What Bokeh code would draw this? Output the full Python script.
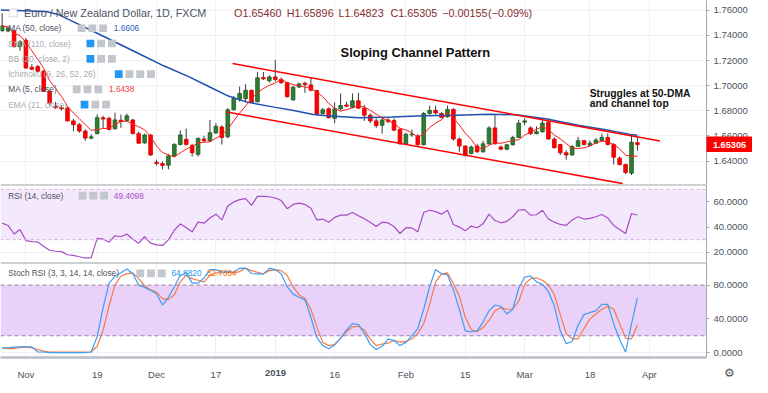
import pandas as pd
from bokeh.plotting import figure
from bokeh.layouts import column
from bokeh.models import (ColumnDataSource, Range1d, FixedTicker, Label,
                          BoxAnnotation, Span, NumeralTickFormatter)
from bokeh.embed import file_html
from bokeh.resources import INLINE
from bokeh.core.properties import value

# ---------------- data (EUR/NZD daily, bar index 0 = 1 Nov 2018) ----------------
bar_index = list(range(-4, 104))

open_ = [1.74374, 1.74349, 1.74374, 1.73106, 1.73613, 1.71457, 1.71533, 1.71152, 1.69554, 1.68362,
         1.68260, 1.68210, 1.67195, 1.66891, 1.66383, 1.65825, 1.66180, 1.67449, 1.67398, 1.66561,
         1.67246, 1.67220, 1.67271, 1.66180, 1.65445, 1.66079, 1.63897, 1.63796, 1.63669, 1.64404,
         1.65318, 1.65724, 1.65242, 1.64531, 1.65749, 1.65622, 1.66231, 1.66713, 1.65926, 1.68083,
         1.68920, 1.68971, 1.69630, 1.68717, 1.70645, 1.70391, 1.70696, 1.70493, 1.70239, 1.68869,
         1.69884, 1.70188, 1.70061, 1.69605, 1.67778, 1.68159, 1.67398, 1.68159, 1.68463, 1.68286,
         1.68793, 1.68210, 1.67652, 1.67195, 1.66840, 1.67271, 1.67220, 1.66510, 1.65368, 1.66079,
         1.66003, 1.65292, 1.67778, 1.68032, 1.67778, 1.67525, 1.68108, 1.65749, 1.65191, 1.64607,
         1.65191, 1.64734, 1.65368, 1.66637, 1.65115, 1.64937, 1.65292, 1.65876, 1.67093, 1.66637,
         1.66180, 1.66332, 1.67093, 1.65749, 1.65318, 1.64658, 1.64481, 1.65166, 1.65622, 1.65242,
         1.65419, 1.65622, 1.65876, 1.65318, 1.64227, 1.63720, 1.63035, 1.65460]
high = [1.75769, 1.74704, 1.74450, 1.73613, 1.73791, 1.71710, 1.71634, 1.71254, 1.69630, 1.68717,
        1.68413, 1.68286, 1.67347, 1.67017, 1.66510, 1.66129, 1.67702, 1.67601, 1.67525, 1.67855,
        1.67702, 1.67778, 1.67347, 1.66332, 1.66180, 1.66129, 1.64100, 1.63973, 1.64557, 1.65419,
        1.66434, 1.66586, 1.65368, 1.65876, 1.66003, 1.67271, 1.67017, 1.66840, 1.68210, 1.69174,
        1.69935, 1.70112, 1.69681, 1.71076, 1.71076, 1.70823, 1.72040, 1.70645, 1.70315, 1.69985,
        1.70239, 1.70315, 1.70620, 1.69681, 1.68210, 1.68260, 1.68666, 1.69377, 1.68717, 1.69377,
        1.69427, 1.68463, 1.67778, 1.67398, 1.67525, 1.67449, 1.67398, 1.66637, 1.66256, 1.66510,
        1.66129, 1.67905, 1.68413, 1.68413, 1.67905, 1.68413, 1.68210, 1.65876, 1.65242, 1.65242,
        1.65368, 1.65622, 1.66764, 1.67652, 1.65242, 1.65368, 1.66003, 1.67271, 1.67398, 1.66764,
        1.66764, 1.67271, 1.67195, 1.65876, 1.65368, 1.64861, 1.65242, 1.65926, 1.65673, 1.65622,
        1.65825, 1.66180, 1.66180, 1.65419, 1.64354, 1.63796, 1.66003, 1.65896]
low = [1.74298, 1.74247, 1.73030, 1.72776, 1.71330, 1.71254, 1.71051, 1.69478, 1.68413, 1.68159,
       1.68032, 1.67144, 1.66383, 1.66256, 1.65622, 1.65724, 1.66129, 1.66637, 1.66434, 1.66510,
       1.66637, 1.67144, 1.66129, 1.65368, 1.65368, 1.64404, 1.63643, 1.63339, 1.63339, 1.64303,
       1.65242, 1.65242, 1.64354, 1.64354, 1.65495, 1.65495, 1.66180, 1.65318, 1.65825, 1.68032,
       1.68717, 1.68666, 1.68616, 1.68666, 1.70442, 1.70239, 1.70315, 1.70138, 1.69047, 1.68793,
       1.69808, 1.69427, 1.69554, 1.67652, 1.67702, 1.67398, 1.67017, 1.68032, 1.68286, 1.68210,
       1.68159, 1.67195, 1.67017, 1.66637, 1.66180, 1.67017, 1.66383, 1.65318, 1.65318, 1.65926,
       1.65242, 1.65242, 1.67702, 1.67702, 1.67398, 1.67449, 1.65622, 1.64734, 1.64354, 1.64531,
       1.64658, 1.64658, 1.65318, 1.65318, 1.64861, 1.64861, 1.65242, 1.65825, 1.66840, 1.66079,
       1.66129, 1.66256, 1.65698, 1.64988, 1.64481, 1.64100, 1.64430, 1.65115, 1.65242, 1.65166,
       1.65368, 1.65571, 1.65242, 1.63720, 1.63643, 1.62958, 1.62882, 1.64823]
close = [1.74755, 1.74602, 1.73106, 1.73486, 1.71406, 1.71305, 1.71152, 1.69554, 1.68616, 1.68235,
         1.68159, 1.67195, 1.66891, 1.66383, 1.65825, 1.65926, 1.67449, 1.67347, 1.66510, 1.67271,
         1.67144, 1.67601, 1.66180, 1.65419, 1.66079, 1.64481, 1.63796, 1.63643, 1.64404, 1.65318,
         1.66079, 1.65318, 1.64658, 1.65800, 1.65622, 1.66256, 1.66764, 1.65876, 1.68083, 1.68971,
         1.69377, 1.69630, 1.68666, 1.70620, 1.70544, 1.70696, 1.70493, 1.70239, 1.69123, 1.69884,
         1.70138, 1.70087, 1.69630, 1.67702, 1.68083, 1.67449, 1.68159, 1.68413, 1.68362, 1.68793,
         1.68210, 1.67652, 1.67195, 1.66814, 1.67271, 1.67144, 1.66459, 1.65368, 1.66129, 1.66129,
         1.65292, 1.67778, 1.68032, 1.67829, 1.67474, 1.68108, 1.65749, 1.65191, 1.64481, 1.65115,
         1.64734, 1.65368, 1.66637, 1.65368, 1.64937, 1.65292, 1.65876, 1.67017, 1.67195, 1.66180,
         1.66332, 1.67017, 1.65749, 1.65064, 1.64658, 1.64481, 1.65166, 1.65622, 1.65318, 1.65419,
         1.65673, 1.65876, 1.65318, 1.64303, 1.63720, 1.63085, 1.65495, 1.65305]

# 50-day MA (bar index, value)
ma50_idx = [-4.3, 3.4, 5.6, 8.9, 13.3, 18.8, 23.2, 27.5, 30.8, 34.1, 37.4, 41.8, 45.1, 48.4,
            50.6, 56.1, 61.6, 67.0, 72.5, 78.0, 82.6, 87.8, 93.0, 97.4, 101.8, 103.0]
ma50_val = [1.7602, 1.7590, 1.7564, 1.7488, 1.7387, 1.7260, 1.7158, 1.7070, 1.6993, 1.6917,
            1.6867, 1.6829, 1.6803, 1.6770, 1.6760, 1.6745, 1.6750, 1.6760, 1.6765, 1.6773,
            1.6768, 1.6735, 1.6684, 1.6651, 1.6612, 1.6606]

# hand-drawn channel lines
chan_up_idx = [34.8, 106.8]
chan_up_val = [1.71761, 1.65597]
chan_lo_idx = [33.85, 100.5]
chan_lo_val = [1.67903, 1.62202]

rsi = [43.1, 41.3, 34.5, 38.0, 29.3, 28.5, 28.2, 24.6, 21.6, 20.8, 20.5, 18.0, 17.5, 16.4, 15.4,
       15.7, 31.0, 30.5, 28.0, 33.1, 32.3, 34.5, 30.3, 27.2, 32.3, 27.2, 25.9, 25.4, 29.8, 37.5,
       42.6, 39.5, 36.2, 43.9, 43.1, 47.2, 50.3, 45.7, 56.7, 60.0, 61.8, 62.6, 57.2, 64.4, 64.4,
       64.1, 63.1, 61.1, 54.6, 58.0, 59.0, 58.0, 54.9, 45.7, 46.4, 43.9, 47.7, 49.5, 49.5, 51.6,
       49.0, 46.7, 43.9, 40.5, 43.9, 43.3,
       40.5, 34.9, 39.5, 39.3, 36.2, 51.6, 53.4, 52.3, 50.3, 53.4, 42.1, 40.0, 37.0, 40.8, 39.5,
       42.6, 50.3, 45.2, 43.4, 44.6, 48.2, 53.6, 53.9, 49.5, 49.8, 53.4, 46.4, 43.9, 42.1, 41.3,
       45.7, 48.2, 46.4, 46.9, 48.2, 50.0, 47.2, 41.3, 38.0, 34.9, 50.8, 49.4]

stoch_k = [5.7, 5.7, 6.5, 6.9, 6.9, 6.9, 0.8, 0.8, 0.0, 0.0, 0.0, 0.0, 0.0, 0.0, 0.0, 0.8, 19.0,
           53.3, 81.9, 90.7, 94.5, 99.0, 93.3, 80.0, 77.3, 73.5, 69.7, 56.4, 65.5, 78.1, 91.4, 94.5,
           82.3, 82.3, 88.4, 98.3, 98.3, 95.2, 96.0, 95.2, 99.8, 100.0, 93.7, 93.3, 93.3, 99.8, 98.3,
           93.3, 78.1, 69.3, 65.5, 62.5, 41.9, 17.9, 8.4, 4.6, 9.5, 17.2, 26.7, 34.3, 33.1, 22.9,
           9.5, 3.8, 7.6, 16.0,
           14.5, 8.4, 12.2, 19.8, 28.6, 51.4, 78.1, 98.3, 93.3, 92.2, 74.3, 51.4, 25.9, 24.8, 25.9,
           36.2, 49.5, 56.4, 54.9, 45.7, 51.4, 76.2, 89.5, 90.7, 83.8, 80.8, 72.4, 55.2, 25.9, 10.7,
           13.3, 32.4, 45.0, 47.6, 49.5, 57.1, 57.1, 34.3, 15.3, 0.8, 34.3, 64.9]
stoch_d = [5.7, 4.9, 4.9, 6.1, 6.5, 5.7, 3.8, 1.9, 0.8, 0.8, 0.8, 0.8, 0.8, 0.8, 0.8, 0.8, 7.6,
           26.7, 55.2, 80.0, 90.7, 93.3, 94.5, 87.6, 79.2, 74.3, 71.6, 64.0, 62.8, 68.6, 83.8, 91.4,
           87.6, 85.7, 83.8, 91.4, 94.5, 94.5, 95.2, 94.5, 96.0, 99.8, 97.1, 95.2, 93.3, 97.1, 97.9,
           97.1, 91.4, 78.1, 68.6, 64.0, 51.4, 30.5, 12.2, 8.4, 9.5, 17.2, 24.8, 30.5, 31.2, 26.7,
           16.0, 8.4, 10.3, 11.4,
           14.5, 12.6, 13.3, 16.4, 22.9, 34.3, 57.1, 83.8, 93.3, 94.5, 81.9, 66.7, 41.9, 27.4, 24.8,
           29.7, 38.1, 49.5, 53.3, 51.4, 51.4, 60.9, 80.8, 87.6, 88.4, 85.7, 80.0, 68.6, 45.0, 22.9,
           16.4, 16.4, 28.6, 40.0, 45.7, 51.4, 55.2, 51.4, 34.3, 17.2, 16.4, 32.7]

date_ticks = [0, 12, 22, 32, 42, 52, 64, 74, 84, 95, 105]
date_labels = ["Nov", "19", "Dec", "17", "2019", "16", "Feb", "15", "Mar", "18", "Apr"]
year_tick = 42  # the year label is shown in bold
price_ticks = [1.64, 1.66, 1.68, 1.70, 1.72, 1.74, 1.76]
rsi_ticks = [20, 40, 60]
stoch_ticks = [0, 40, 80]

# ---------------- layout constants ----------------
FW = 706
RB = 46
H_PRICE, H_RSI, H_STO, H_AX = 184, 78, 95, 20
SX = FW / 722.5
FONT = "Liberation Sans"
GRID = "#eef0f3"
TXT = "#4c525e"
DIM = "#a9acb4"
RED = "#ff0000"
GREEN = "#2f7d32"

X0, X1 = -4.28, 114.63
x_range = Range1d(X0, X1)

PANES = {
    "price": (0.0, 192.5, 1.6213, 1.7678),
    "rsi": (192.5, 80.8, 11.85, 73.85),
    "stoch": (273.3, 98.4, -5.7, 106.7),
}


def ydat(pane, ref_y):
    top, h, y0, y1 = PANES[pane]
    return y1 - (ref_y - top) / h * (y1 - y0)


def make_fig(pane, fh, yticks, fmt, bottom_axis=False):
    _, _, y0, y1 = PANES[pane]
    p = figure(frame_width=FW, frame_height=fh, x_range=x_range, y_range=Range1d(y0, y1),
               output_backend="svg", toolbar_location=None, y_axis_location="right",
               min_border_left=0, min_border_top=0, min_border_right=RB,
               min_border_bottom=H_AX if bottom_axis else 0,
               background_fill_color="white", border_fill_color="white",
               outline_line_color=None)
    tk = FixedTicker(ticks=date_ticks)
    p.xaxis.ticker = tk
    p.xgrid.ticker = tk
    p.yaxis.ticker = FixedTicker(ticks=yticks)
    p.ygrid.ticker = FixedTicker(ticks=yticks)
    p.yaxis.formatter = NumeralTickFormatter(format=fmt)
    for ax in p.yaxis + p.xaxis:
        ax.minor_tick_line_color = None
        ax.major_label_text_font = FONT
        ax.major_label_text_font_size = "9.5px"
        ax.major_label_text_color = TXT
    p.yaxis.axis_line_color = "#a3a6ae"
    p.yaxis.major_tick_line_color = "#a3a6ae"
    p.yaxis.major_tick_out = 3
    p.yaxis.major_tick_in = 0
    p.yaxis.major_label_standoff = 4
    p.xgrid.grid_line_color = GRID
    p.ygrid.grid_line_color = GRID
    if bottom_axis:
        p.xaxis.major_tick_line_color = None
        p.xaxis.major_label_overrides = {t: ("" if t == year_tick else s)
                                         for t, s in zip(date_ticks, date_labels)}
        p.xaxis.axis_line_color = "#b9bcc3"
        p.xaxis.axis_line_width = 2.5
        p.xaxis.major_label_standoff = 5
    else:
        p.xaxis.visible = False
    return p


def label(p, pane, x, ref_y, text, size, color, bold=False):
    p.add_layout(Label(x=x * SX, y=ydat(pane, ref_y), x_units="screen", y_units="data",
                       text=text, text_font=FONT, text_font_size=f"{size}px",
                       text_color=color, text_baseline="middle", text_align="left",
                       text_font_style="bold" if bold else "normal"))


def icons(p, pane, xs, ref_y, blue_first=False):
    for k, x in enumerate(xs):
        col = "#2196f3" if (blue_first and k == 0) else "#c3c6cd"
        p.add_layout(BoxAnnotation(left=x * SX, right=(x + 8) * SX,
                                   left_units="screen", right_units="screen",
                                   top=ydat(pane, ref_y - 4), bottom=ydat(pane, ref_y + 4),
                                   fill_color=col, fill_alpha=1.0, line_color=None))


def overlay_fig(w, h, top_in_prev, prev_h, left, bg):
    """Small figure laid over the previous layout item (net height zero)."""
    f = figure(frame_width=w, frame_height=h, x_range=Range1d(0, 1), y_range=Range1d(0, 1),
               output_backend="svg", toolbar_location=None, x_axis_location=None,
               y_axis_location=None, min_border=0, outline_line_color=None,
               background_fill_color=bg, border_fill_color=bg,
               margin=(top_in_prev - prev_h, 0, prev_h - top_in_prev - h, left))
    f.xgrid.visible = False
    f.ygrid.visible = False
    return f


# ---------------- price pane ----------------
df = pd.DataFrame({"idx": bar_index, "open": open_, "high": high, "low": low, "close": close})
df["top"] = df[["open", "close"]].max(axis=1)
df["bottom"] = df[["open", "close"]].min(axis=1)
df["fill"] = [GREEN if c >= o else RED for o, c in zip(df["open"], df["close"])]
df["edge"] = ["#1d5a20" if c >= o else "#d40000" for o, c in zip(df["open"], df["close"])]
ma5 = df["close"].rolling(5, min_periods=1).mean()
src = ColumnDataSource(df)

pp = make_fig("price", H_PRICE, price_ticks, "0.00000")
pp.segment(x0="idx", y0="low", x1="idx", y1="high", source=src, line_color="#3a3a3a", line_width=1)
pp.vbar(x="idx", width=0.62, top="top", bottom="bottom", source=src,
        fill_color="fill", line_color="edge", line_width=0.8)
pp.line(ma50_idx, ma50_val, line_color="#1f4fb0", line_width=1.5)
pp.line(bar_index, list(ma5), line_color="#ff1a1a", line_width=1)
pp.line(chan_up_idx, chan_up_val, line_color=RED, line_width=1.5)
pp.line(chan_lo_idx, chan_lo_val, line_color=RED, line_width=1.5)

# header
pp.add_layout(BoxAnnotation(left=9 * SX, right=17 * SX, left_units="screen", right_units="screen",
                            top=ydat("price", 9), bottom=ydat("price", 17),
                            fill_color="white", fill_alpha=1.0, line_color="#7a7e88", line_width=1))
label(pp, "price", 24, 13, "Euro / New Zealand Dollar, 1D, FXCM", 10.8, TXT)
ohlc_c = "#862d2d"
for x, t in [(239, "O1.65460"), (293, "H1.65896"), (346, "L1.64823"), (399, "C1.65305"),
             (452, "\u22120.00155"), (499, "(\u22120.09%)")]:
    label(pp, "price", x, 13, t, 10.8, ohlc_c)

# indicator legend rows
label(pp, "price", 8, 29, "MA (50, close)", 8.3, TXT)
icons(pp, "price", [79, 90, 101], 29)
label(pp, "price", 116, 29, "1.6606", 8.3, "#2a5cb8")
label(pp, "price", 8, 45, "EMA (110, close)", 8.3, DIM)
icons(pp, "price", [88, 99, 110], 45, True)
label(pp, "price", 8, 61, "BB (20, close, 2)", 8.3, DIM)
icons(pp, "price", [88, 99, 110], 61, True)
label(pp, "price", 8, 77, "Ichimoku (9, 26, 52, 26)", 8.3, DIM)
icons(pp, "price", [117, 128, 139, 150], 77, True)
label(pp, "price", 8, 93, "MA (5, close)", 8.3, TXT)
icons(pp, "price", [74, 85, 96], 93)
label(pp, "price", 111, 93, "1.6438", 8.3, "#f03c3c")
label(pp, "price", 8, 109, "EMA (21, close)", 8.3, DIM)
icons(pp, "price", [82, 93, 104], 109, True)

# annotations
label(pp, "price", 348, 54, "Sloping Channel Pattern", 12.9, "#111111", True)
label(pp, "price", 603, 97, "Struggles at 50-DMA", 10.3, "#111111", True)
label(pp, "price", 603, 108, "and channel top", 10.3, "#111111", True)

# ---------------- last-price tag on the price axis ----------------
_, _, PY0, PY1 = PANES["price"]
TAG_H = 16
tag_center = H_PRICE - (close[-1] - PY0) / (PY1 - PY0) * H_PRICE
tag_top = int(round(tag_center - TAG_H / 2))
tag = overlay_fig(RB, TAG_H, tag_top, H_PRICE, FW, "#ff0000")
tag.text(x=[0.5], y=[0.5], text=["%.5f" % close[-1]], text_color="white",
         text_font=value(FONT), text_font_size="9.2px", text_font_style="bold",
         text_align="center", text_baseline="middle")

# ---------------- RSI pane ----------------
pr = make_fig("rsi", H_RSI, rsi_ticks, "0.0000")
pr.add_layout(BoxAnnotation(bottom=30, top=70, fill_color="#f4e8fc", fill_alpha=1.0, line_color=None, level="underlay"))
pr.add_layout(Span(location=70, dimension="width", line_color="#cfb4dc", line_dash="3 3", line_width=1))
pr.add_layout(Span(location=30, dimension="width", line_color="#cfb4dc", line_dash="3 3", line_width=1))
pr.line(bar_index, rsi, line_color="#a64dc4", line_width=1.2)
pr.add_layout(Span(location=73.85, dimension="width", line_color="#9c9fa7", line_width=2))
label(pr, "rsi", 8, 204, "RSI (14, close)", 8.3, TXT)
icons(pr, "rsi", [80, 91, 102], 204)
label(pr, "rsi", 116, 204, "49.4098", 8.3, "#a64dc4")

# ---------------- Stoch RSI pane ----------------
ps = make_fig("stoch", H_STO, stoch_ticks, "0.0000", bottom_axis=True)
ps.add_layout(BoxAnnotation(bottom=20, top=80, fill_color="#e9d1fa", fill_alpha=1.0, line_color=None, level="underlay"))
ps.add_layout(Span(location=80, dimension="width", line_color="#9a80a8", line_dash="4 3", line_width=1))
ps.add_layout(Span(location=20, dimension="width", line_color="#9a80a8", line_dash="4 3", line_width=1))
ps.line(bar_index, stoch_d, line_color="#f57a45", line_width=1.2)
ps.line(bar_index, stoch_k, line_color="#3d9df2", line_width=1.2)
ps.add_layout(Span(location=106.7, dimension="width", line_color="#9c9fa7", line_width=2))
label(ps, "stoch", 8, 284.5, "Stoch RSI (3, 3, 14, 14, close)", 8.3, TXT)
icons(ps, "stoch", [139, 150, 161], 284.5)
label(ps, "stoch", 175, 284.5, "64.8820", 8.3, "#2196f3")
label(ps, "stoch", 211, 284.5, "32.7384", 8.3, "#ff6d00")

# bold year label under its tick, and the settings gear of the axis corner
PS_H = H_STO + H_AX
year_x = (year_tick - X0) / (X1 - X0) * FW
yr = overlay_fig(30, 14, H_STO + 3, PS_H, int(round(year_x - 15)), "white")
yr.text(x=[0.5], y=[0.5], text=[date_labels[date_ticks.index(year_tick)]], text_color=TXT,
        text_font=value(FONT), text_font_size="9.5px", text_font_style="bold",
        text_align="center", text_baseline="middle")
gear = overlay_fig(16, 16, H_STO + 2, PS_H, FW + 15, "white")
gear.text(x=[0.5], y=[0.5], text=["\u2699"], text_color="#50535e",
          text_font=value("DejaVu Sans"), text_font_size="12px",
          text_align="center", text_baseline="middle")

layout = column(pp, tag, pr, ps, yr, gear, spacing=0)
open("out.html", "w").write(file_html(layout, INLINE))
